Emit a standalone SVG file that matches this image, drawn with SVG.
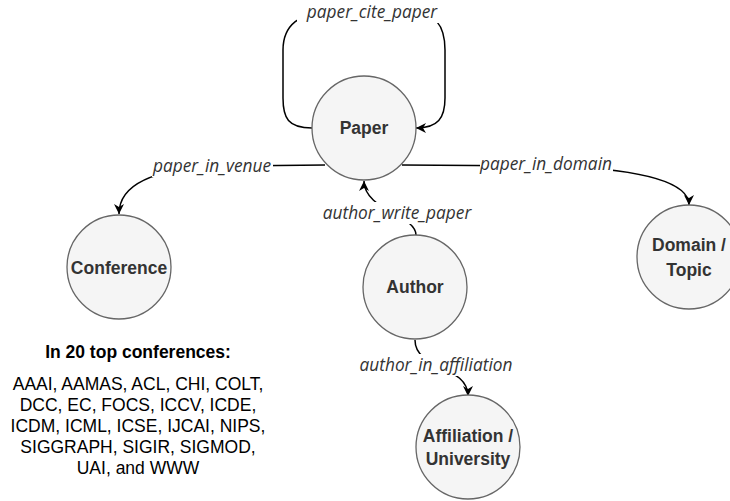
<svg xmlns="http://www.w3.org/2000/svg" width="730" height="501" viewBox="0 0 730 501">
<style>
.node{fill:#f5f5f5;stroke:#666;stroke-width:1.3}
.nl{font-family:"Liberation Sans",Arial,sans-serif;font-weight:bold;font-size:17.5px;fill:#333;text-anchor:middle}
.edge{fill:none;stroke:#000;stroke-width:1.5}
.el{font-family:"Open Sans","Noto Sans",sans-serif;font-style:italic;font-size:17.3px;fill:#333;text-anchor:middle}
.bg{fill:#fff}
.note{font-family:"Liberation Sans",Arial,sans-serif;font-size:17.5px;fill:#000;text-anchor:middle}
</style>
<defs>
<marker id="arr" viewBox="-11 -6 12 12" refX="0" refY="0" markerWidth="12" markerHeight="12" markerUnits="userSpaceOnUse" orient="auto">
<path d="M0,0 L-10,-5 L-7,0 L-10,5 Z" fill="#000"/>
</marker>
</defs>
<g id="connectors">
<path class="edge" d="M312,128 C288,128 283,118 283,98 L283,50 C283,25 300,12 330,12 L410,12 C435,12 445,25 445,50 L445,98 C445,118 438,128 416,128" marker-end="url(#arr)"/>
<path class="edge" d="M325,165 L220,166 Q119,170 119,214" marker-end="url(#arr)"/>
<path class="edge" d="M402,165 L560,166 Q689,172 689,205" marker-end="url(#arr)"/>
<path class="edge" d="M416,235 C416,215 364,210 364,181" marker-end="url(#arr)"/>
<path class="edge" d="M415,340 C415,370 468,365 468,396" marker-end="url(#arr)"/>
<rect class="bg" x="297" y="1" width="150" height="22"/>
<text class="el" x="372" y="18">paper_cite_paper</text>
<rect class="bg" x="152" y="155" width="121" height="22"/>
<text class="el" x="212" y="172">paper_in_venue</text>
<rect class="bg" x="480" y="153" width="133" height="22"/>
<text class="el" x="546" y="170">paper_in_domain</text>
<rect class="bg" x="322" y="202" width="151" height="22"/>
<text class="el" x="397" y="219">author_write_paper</text>
<rect class="bg" x="357" y="354" width="158" height="22"/>
<text class="el" x="436" y="371">author_in_affiliation</text>
</g>
<g id="paper">
<circle class="node" cx="364" cy="128" r="52"/>
<text class="nl" x="364" y="134">Paper</text>
</g>
<g id="conference">
<circle class="node" cx="119" cy="267" r="52"/>
<text class="nl" x="119" y="274">Conference</text>
</g>
<g id="author">
<circle class="node" cx="415" cy="287" r="52"/>
<text class="nl" x="415" y="293">Author</text>
</g>
<g id="domain">
<circle class="node" cx="689" cy="257" r="52"/>
<text class="nl" x="689" y="251">Domain /</text>
<text class="nl" x="689" y="276">Topic</text>
</g>
<g id="affiliation">
<circle class="node" cx="468" cy="447" r="52"/>
<text class="nl" x="468" y="442">Affiliation /</text>
<text class="nl" x="468" y="465">University</text>
</g>
<g id="note">
<text class="note" x="138" y="358" font-weight="bold">In 20 top conferences:</text>
<text class="note" x="138" y="390">AAAI, AAMAS, ACL, CHI, COLT,</text>
<text class="note" x="138" y="411">DCC, EC, FOCS, ICCV, ICDE,</text>
<text class="note" x="138" y="432">ICDM, ICML, ICSE, IJCAI, NIPS,</text>
<text class="note" x="138" y="453">SIGGRAPH, SIGIR, SIGMOD,</text>
<text class="note" x="138" y="474">UAI, and WWW</text>
</g>
</svg>
